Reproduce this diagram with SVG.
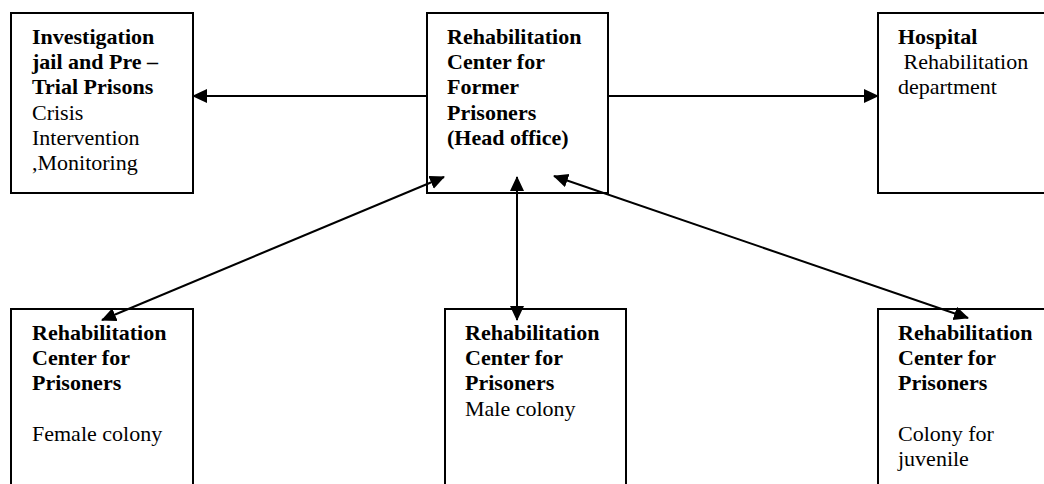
<svg xmlns="http://www.w3.org/2000/svg" width="1044" height="484" viewBox="0 0 1044 484">
  <style>
    .box { fill: #ffffff; stroke: #000000; stroke-width: 2; }
    .t { font-family: "Liberation Serif", "Times New Roman", serif; font-size: 22px; fill: #000000; }
    .b { font-weight: bold; }
    .conn { stroke: #000000; stroke-width: 2; fill: none; }
  </style>
  <defs>
    <marker id="ah" markerUnits="userSpaceOnUse" markerWidth="16" markerHeight="15" refX="14" refY="7" orient="auto-start-reverse">
      <path d="M0,0 L15,7 L0,14 z" fill="#000000"/>
    </marker>
  </defs>
  <rect width="1044" height="484" fill="#ffffff"/>

  <g id="investigation">
    <rect class="box" x="11" y="13" width="182" height="180"/>
    <text class="t" x="32" y="44"><tspan class="b">Investigation</tspan><tspan class="b" x="32" dy="25.2">jail and Pre –</tspan><tspan class="b" x="32" dy="25.2">Trial Prisons</tspan><tspan x="32" dy="25.2">Crisis</tspan><tspan x="32" dy="25.2">Intervention</tspan><tspan x="32" dy="25.2">,Monitoring</tspan></text>
  </g>

  <g id="head-office">
    <rect class="box" x="427" y="13" width="181" height="180"/>
    <text class="t b" x="447" y="44"><tspan>Rehabilitation</tspan><tspan x="447" dy="25.2">Center for</tspan><tspan x="447" dy="25.2">Former</tspan><tspan x="447" dy="25.2">Prisoners</tspan><tspan x="447" dy="25.2">(Head office)</tspan></text>
  </g>

  <g id="hospital">
    <rect class="box" x="878" y="13" width="200" height="180"/>
    <text class="t" x="898" y="44" xml:space="preserve"><tspan class="b">Hospital</tspan><tspan x="898" dy="25.2"> Rehabilitation</tspan><tspan x="898" dy="25.2">department</tspan></text>
  </g>

  <g id="female-colony">
    <rect class="box" x="11" y="309" width="182" height="200"/>
    <text class="t" x="32" y="340"><tspan class="b">Rehabilitation</tspan><tspan class="b" x="32" dy="25.2">Center for</tspan><tspan class="b" x="32" dy="25.2">Prisoners</tspan><tspan x="32" dy="50.4">Female colony</tspan></text>
  </g>

  <g id="male-colony">
    <rect class="box" x="445" y="309" width="181" height="200"/>
    <text class="t" x="465" y="340"><tspan class="b">Rehabilitation</tspan><tspan class="b" x="465" dy="25.2">Center for</tspan><tspan class="b" x="465" dy="25.2">Prisoners</tspan><tspan x="465" dy="25.2">Male colony</tspan></text>
  </g>

  <g id="juvenile-colony">
    <rect class="box" x="878" y="309" width="200" height="200"/>
    <text class="t" x="898" y="340"><tspan class="b">Rehabilitation</tspan><tspan class="b" x="898" dy="25.2">Center for</tspan><tspan class="b" x="898" dy="25.2">Prisoners</tspan><tspan x="898" dy="50.4">Colony for</tspan><tspan x="898" dy="25.2">juvenile</tspan></text>
  </g>

  <g id="connectors">
    <line class="conn" x1="427" y1="96" x2="193" y2="96" marker-end="url(#ah)"/>
    <line class="conn" x1="608" y1="96" x2="878" y2="96" marker-end="url(#ah)"/>
    <line class="conn" x1="102" y1="320" x2="444" y2="177" marker-start="url(#ah)" marker-end="url(#ah)"/>
    <line class="conn" x1="517" y1="177" x2="517" y2="320" marker-start="url(#ah)" marker-end="url(#ah)"/>
    <line class="conn" x1="554" y1="176" x2="968" y2="318" marker-start="url(#ah)" marker-end="url(#ah)"/>
  </g>
</svg>
